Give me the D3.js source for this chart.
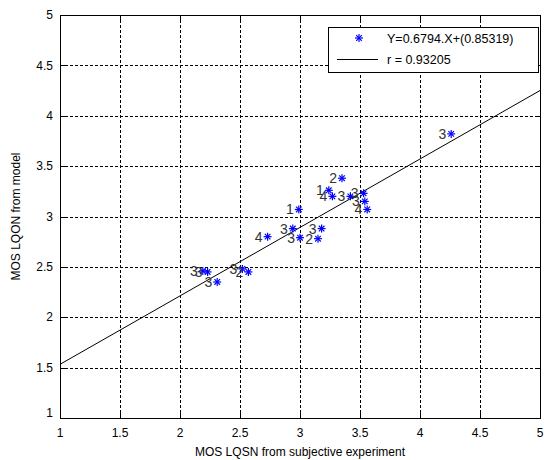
<!DOCTYPE html>
<html>
<head>
	<title>MOS LQON vs LQSN</title>
	<style type="text/css">
body { margin:0; background:#fff; }
text { font-family: "Liberation Sans", Arial, sans-serif; fill:#000; }
.grid line { stroke:#000; stroke-width:1; stroke-dasharray:3,2; shape-rendering:crispEdges; }
.frame { fill:none; stroke:#000; stroke-width:1; shape-rendering:crispEdges; }
.tick-mark { stroke:#000; stroke-width:1; shape-rendering:crispEdges; }
.star line { stroke:#0000ff; stroke-width:1.2; }
.fit { stroke:#000; stroke-width:1; fill:none; }
	</style>
</head>
<body>

<div id="chart"></div>

<script type="text/javascript" src="https://cdn.jsdelivr.net/npm/d3@7"></script>
<script type="text/javascript">

// subjective MOS (x), model MOS (y), and the numeric label drawn beside each point
var mosSubjective = [3.35, 3.24, 3.27, 3.42, 3.53, 3.54, 3.56, 2.99, 2.73, 2.94, 3.00, 3.15, 3.18, 2.52, 2.57, 2.19, 2.23, 2.31, 4.26];
var mosModel      = [3.38, 3.26, 3.20, 3.20, 3.23, 3.15, 3.07, 3.07, 2.80, 2.88, 2.79, 2.78, 2.88, 2.48, 2.45, 2.46, 2.45, 2.35, 3.82];
var pointLabels   = ["2", "1", "4", "3", "3", "3", "4", "1", "4", "3", "3", "2", "3", "3", "2", "3", "3", "3", "3"];

var slope = 0.6794, intercept = 0.85319, rValue = 0.93205;

var xTicks = [1, 1.5, 2, 2.5, 3, 3.5, 4, 4.5, 5];
var yTicks = [1, 1.5, 2, 2.5, 3, 3.5, 4, 4.5, 5];

var margin = {top:15, left:60, right:4, bottom:42},
	width = 544 - margin.left - margin.right,
	height = 460 - margin.top - margin.bottom;

var x = d3.scaleLinear().domain([1,5]).range([0,width]);
var y = d3.scaleLinear().domain([1,5]).range([height,0]);

var svg = d3.select("#chart").append("svg")
	.attr("width",544)
	.attr("height",460)
	.append("g")
	.attr("transform","translate("+margin.left+","+margin.top+")");

// grid
var grid = svg.append("g").attr("class","grid");
grid.selectAll(".gx")
	.data(xTicks.slice(1,-1))
	.enter().append("line")
	.attr("x1",function(d){ return Math.round(x(d))+0.5; })
	.attr("x2",function(d){ return Math.round(x(d))+0.5; })
	.attr("y1",0).attr("y2",height);
grid.selectAll(".gy")
	.data(yTicks.slice(1,-1))
	.enter().append("line")
	.attr("y1",function(d){ return Math.round(y(d))+0.5; })
	.attr("y2",function(d){ return Math.round(y(d))+0.5; })
	.attr("x1",0).attr("x2",width);

// inward ticks on all four sides
var tl = 5;
xTicks.forEach(function(d){
	var px = Math.round(x(d))+0.5;
	svg.append("line").attr("class","tick-mark").attr("x1",px).attr("x2",px).attr("y1",height).attr("y2",height-tl);
	svg.append("line").attr("class","tick-mark").attr("x1",px).attr("x2",px).attr("y1",0).attr("y2",tl);
});
yTicks.forEach(function(d){
	var py = Math.round(y(d))+0.5;
	svg.append("line").attr("class","tick-mark").attr("y1",py).attr("y2",py).attr("x1",0).attr("x2",tl);
	svg.append("line").attr("class","tick-mark").attr("y1",py).attr("y2",py).attr("x1",width).attr("x2",width-tl);
});

svg.append("rect")
	.attr("class","frame")
	.attr("x",0.5).attr("y",0.5)
	.attr("width",width).attr("height",height);

// tick labels
svg.selectAll(".xl")
	.data(xTicks)
	.enter().append("text")
	.attr("x",function(d){ return x(d); })
	.attr("y",height+19)
	.attr("text-anchor","middle")
	.style("font-size","12px")
	.text(function(d){ return d; });

svg.selectAll(".yl")
	.data(yTicks)
	.enter().append("text")
	.attr("x",-7)
	.attr("y",function(d){ return y(d); })
	.attr("dy", function(d){ return d == 1 ? "-0.1em" : "0.35em"; })
	.attr("text-anchor","end")
	.style("font-size","12px")
	.text(function(d){ return d; });

// axis titles
svg.append("text")
	.attr("x",width/2)
	.attr("y",height+38)
	.attr("text-anchor","middle")
	.style("font-size","12px")
	.text("MOS LQSN from subjective experiment");

svg.append("text")
	.attr("transform","translate(-40,"+(height/2)+") rotate(-90)")
	.attr("text-anchor","middle")
	.style("font-size","12px")
	.text("MOS LQON from model");

// regression line
svg.append("line")
	.attr("class","fit")
	.attr("x1",x(1)).attr("y1",y(slope*1+intercept))
	.attr("x2",x(5)).attr("y2",y(slope*5+intercept));

// points
var pts = mosSubjective.map(function(d,i){ return {x:d, y:mosModel[i], label:pointLabels[i]}; });

function star(g){
	var r = 4, q = 2.8;
	g.append("line").attr("x1",-r).attr("x2",r).attr("y1",0).attr("y2",0);
	g.append("line").attr("x1",0).attr("x2",0).attr("y1",-r).attr("y2",r);
	g.append("line").attr("x1",-q).attr("x2",q).attr("y1",-q).attr("y2",q);
	g.append("line").attr("x1",-q).attr("x2",q).attr("y1",q).attr("y2",-q);
}

var pg = svg.selectAll(".pt")
	.data(pts)
	.enter().append("g")
	.attr("class","pt")
	.attr("transform",function(d){ return "translate("+x(d.x)+","+y(d.y)+")"; });

pg.append("text")
	.attr("x",-5)
	.attr("dy","0.36em")
	.attr("text-anchor","end")
	.style("font-size","14px")
	.style("fill","#333")
	.text(function(d){ return d.label; });

pg.append("g").attr("class","star").call(star);

// legend
var legend = svg.append("g")
	.attr("transform","translate("+(x(1)+268)+",12)");

legend.append("rect")
	.attr("x",0.5).attr("y",0.5)
	.attr("width",210).attr("height",45)
	.attr("fill","#fff")
	.attr("stroke","#000")
	.style("shape-rendering","crispEdges");

legend.append("g").attr("class","star")
	.attr("transform","translate(31,11)")
	.call(star);

legend.append("text")
	.attr("x",59).attr("y",11).attr("dy","0.36em")
	.style("font-size","12.5px")
	.text("Y="+slope+".X+("+intercept+")");

legend.append("line")
	.attr("x1",9).attr("x2",50)
	.attr("y1",32.5).attr("y2",32.5)
	.attr("stroke","#000");

legend.append("text")
	.attr("x",59).attr("y",32).attr("dy","0.36em")
	.style("font-size","12.5px")
	.text("r = "+rValue);

</script>
</body>
</html>
